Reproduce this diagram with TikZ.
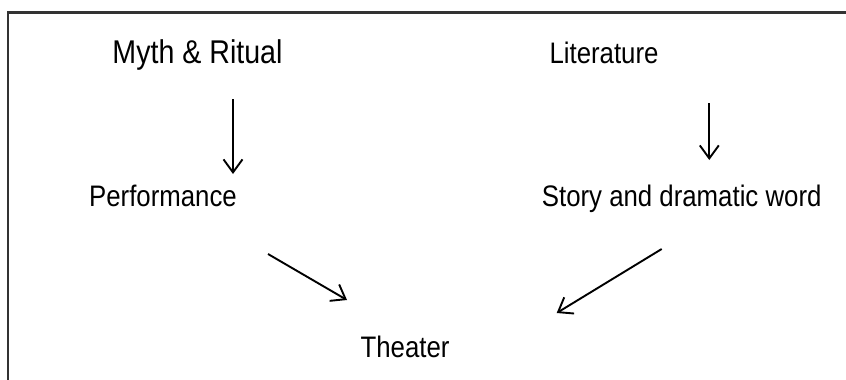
\documentclass[tikz,border=0pt]{standalone}
\usepackage{fontspec}
\setmainfont{Liberation Sans}
\usetikzlibrary{arrows.meta}

\newcommand{\tall}[1]{\scalebox{1}[1.15]{#1}}

\begin{document}
\begin{tikzpicture}[x=1pt, y=-1pt,
    lbl/.style={inner sep=0pt, anchor=base, font=\fontsize{25.8}{30}\selectfont},
    arr/.style={line width=1.9pt, -{Straight Barb[length=13pt, width=19pt, line width=1.9pt]}}]
    \useasboundingbox (0,0) rectangle (846,380);
    \clip (0,0) rectangle (846,380);

    % frame, only top and left edges inside the page
    \draw[line width=2.2pt, black!80] (8,12.5) rectangle (900,430);

    \node[lbl, font=\fontsize{28.6}{32}\selectfont] (myth) at (197.5,63) {\tall{Myth \& Ritual}};
    \node[lbl] (lit) at (604,63) {\tall{Literature}};
    \node[lbl] (perf) at (163,206) {\tall{Performance}};
    \node[lbl] (story) at (681.7,206) {\tall{Story and dramatic word}};
    \node[lbl] (theater) at (405,357) {\tall{Theater}};

    \coordinate (A1) at (233,99);
    \coordinate (A2) at (233,174);
    \coordinate (B1) at (709.3,103);
    \coordinate (B2) at (709.3,160);
    \coordinate (C1) at (268,254);
    \coordinate (C2) at (347,300);
    \coordinate (D1) at (661.7,249);
    \coordinate (D2) at (556.7,313);

    \draw[arr] (A1) -- (A2);
    \draw[arr] (B1) -- (B2);
    \draw[arr] (C1) -- (C2);
    \draw[arr] (D1) -- (D2);
\end{tikzpicture}
\end{document}
